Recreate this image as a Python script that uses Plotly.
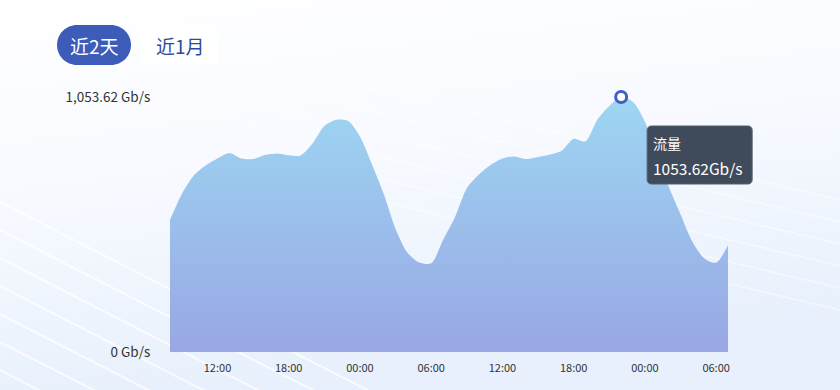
import plotly.graph_objects as go
import pandas as pd
import urllib.parse

# ---- data ----
times = pd.date_range("2024-05-01 08:00", periods=48, freq="h")
traffic = [545.4, 652.8, 728.9, 770.6, 799.5, 822.2, 799.5, 797.4, 814.0, 820.2,
           812.7, 812.3, 861.1, 933.8, 959.8, 954.4, 890.8, 776.8, 653.6, 508.2,
           410.3, 369.8, 366.5, 462.8, 556.6, 676.8, 732.2, 772.6, 799.9, 808.2,
           797.4, 805.7, 815.6, 831.7, 880.9, 870.6, 960.2, 1016.4, 1053.62, 1033.0,
           952.0, 808.2, 684.2, 569.0, 455.3, 386.7, 369.0, 441.3]
series_name = "流量"
unit = "Gb/s"
range_buttons = ["近2天", "近1月"]
x_tick_vals = pd.date_range("2024-05-01 12:00", periods=8, freq="6h")
x_tick_text = [t.strftime("%H:%M") for t in x_tick_vals]

ymax = max(traffic)
peak_i = traffic.index(ymax)
y_tick_vals = [0, ymax]
y_tick_text = ["0 " + unit, f"{ymax:,.2f} " + unit]

FONT = "Noto Sans CJK SC"

fig = go.Figure()
fig.add_trace(go.Scatter(
    x=times, y=traffic, mode="lines", line=dict(shape="spline", smoothing=0.8, width=0, color="#9dd5f1"),
    fill="tozeroy",
    fillgradient=dict(type="vertical", colorscale=[[0, "#99a7e4"], [1, "#9dd6f2"]]),
    hoverinfo="skip", showlegend=False))
fig.add_trace(go.Scatter(
    x=[times[peak_i]], y=[traffic[peak_i]], mode="markers",
    marker=dict(size=11, color="white", line=dict(color="#3f5fc6", width=3)),
    hoverinfo="skip", showlegend=False, cliponaxis=False))

# background: soft gradient with faint diagonal streaks
lines = "".join(
    f'<line x1="{-200}" y1="{100 + k*28}" x2="{700}" y2="{560 + k*28}"/>' for k in range(10)
)
lines2 = "".join(
    f'<line x1="{250}" y1="{60 + k*22}" x2="{840}" y2="{200 + k*22}"/>' for k in range(6)
)
svg = (
    '<svg xmlns="http://www.w3.org/2000/svg" width="840" height="390" viewBox="0 0 840 390" preserveAspectRatio="none">'
    '<defs><linearGradient id="g" x1="0" y1="0" x2="0.25" y2="1">'
    '<stop offset="0" stop-color="#ffffff"/><stop offset="0.45" stop-color="#f8faff"/>'
    '<stop offset="1" stop-color="#e7f0fc"/></linearGradient></defs>'
    '<rect width="840" height="390" fill="url(#g)"/>'
    f'<g stroke="#ffffff" stroke-width="2" opacity="0.75">{lines}</g>'
    f'<g stroke="#ffffff" stroke-width="1.5" opacity="0.5">{lines2}</g>'
    '</svg>'
)
src = "data:image/svg+xml;charset=utf-8," + urllib.parse.quote(svg)

L, R, T, B = 170, 112, 97, 38
pw, ph = 840 - L - R, 390 - T - B
def px(x):
    return (x - L) / pw
def py(y):
    return (390 - B - y) / ph

fig.add_layout_image(dict(source=src, xref="paper", yref="paper", x=px(0), y=py(0),
                          sizex=840 / pw, sizey=390 / ph, sizing="stretch", layer="below",
                          xanchor="left", yanchor="top"))

def rounded(x0, y0, x1, y1, r, fx, fy):
    k = r * 0.45
    return (f"M {fx(x0+r)} {fy(y0)} L {fx(x1-r)} {fy(y0)} "
            f"C {fx(x1-k)} {fy(y0)} {fx(x1)} {fy(y0+k)} {fx(x1)} {fy(y0+r)} "
            f"L {fx(x1)} {fy(y1-r)} "
            f"C {fx(x1)} {fy(y1-k)} {fx(x1-k)} {fy(y1)} {fx(x1-r)} {fy(y1)} "
            f"L {fx(x0+r)} {fy(y1)} "
            f"C {fx(x0+k)} {fy(y1)} {fx(x0)} {fy(y1-k)} {fx(x0)} {fy(y1-r)} "
            f"L {fx(x0)} {fy(y0+r)} "
            f"C {fx(x0)} {fy(y0+k)} {fx(x0+k)} {fy(y0)} {fx(x0+r)} {fy(y0)} Z")

# pill button
fig.add_shape(type="path", path=rounded(57, 25, 131, 65, 20, px, py), xref="paper", yref="paper",
              fillcolor="#3d5bb8", line=dict(width=0), layer="below")
fig.add_shape(type="rect", xref="paper", yref="paper", x0=px(141), x1=px(218), y0=py(26), y1=py(64),
              fillcolor="rgba(255,255,255,0.7)", line=dict(width=0), layer="below")
fig.add_annotation(text=range_buttons[0], xref="paper", yref="paper", x=px(94), y=py(45),
                   xanchor="center", yanchor="middle",
                   showarrow=False, font=dict(family=FONT, size=19, color="white"))
fig.add_annotation(text=range_buttons[1], xref="paper", yref="paper", x=px(180), y=py(45),
                   xanchor="center", yanchor="middle",
                   showarrow=False, font=dict(family=FONT, size=19, color="#2f4a9c"))

# tooltip: anchored to the peak point, expressed as plot fractions derived from the data
peak_fx = (times[peak_i] - times[0]) / (times[-1] - times[0])
peak_fy = traffic[peak_i] / ymax
ident = lambda v: v
neg = lambda v: -v
fig.add_shape(type="path", xref="paper", yref="paper", xsizemode="pixel", ysizemode="pixel",
              xanchor=peak_fx, yanchor=peak_fy,
              path=rounded(26, 29, 131, 87, 4, ident, neg),
              fillcolor="#3f4a5b", line=dict(color="#56606f", width=1), layer="above")
fig.add_annotation(x=peak_fx, y=peak_fy, xref="paper", yref="paper", text=series_name,
                   showarrow=False, xanchor="left", yanchor="middle", xshift=30, yshift=-46,
                   font=dict(family=FONT, size=14, color="white"))
fig.add_annotation(x=peak_fx, y=peak_fy, xref="paper", yref="paper",
                   text=f"{traffic[peak_i]:.2f}{unit}",
                   showarrow=False, xanchor="left", yanchor="middle", xshift=30, yshift=-71,
                   font=dict(family=FONT, size=15.5, color="white"))

fig.update_layout(
    width=840, height=390, margin=dict(l=L, r=R, t=T, b=B),
    paper_bgcolor="rgba(0,0,0,0)", plot_bgcolor="rgba(0,0,0,0)",
    font=dict(family=FONT, color="#333333"),
    xaxis=dict(range=[times[0], times[-1]], tickvals=x_tick_vals, ticktext=x_tick_text,
               showgrid=False, zeroline=False, showline=False, ticks="outside", ticklen=6,
               tickcolor="rgba(0,0,0,0)", tickfont=dict(size=11, color="#333333", family=FONT)),
    yaxis=dict(range=[0, ymax], tickvals=y_tick_vals, ticktext=y_tick_text,
               showgrid=False, zeroline=False, showline=False, ticks="outside", ticklen=16,
               tickcolor="rgba(0,0,0,0)", tickfont=dict(size=13.5, color="#333333", family=FONT)),
)

fig.write_html("out.html")
